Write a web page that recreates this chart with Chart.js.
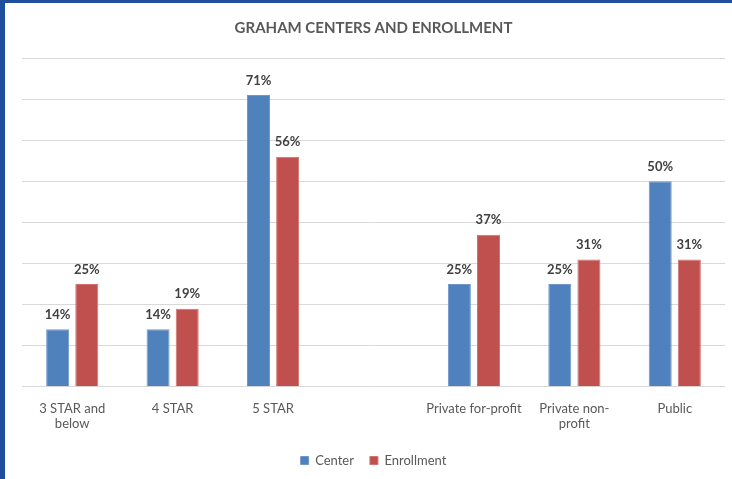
<!DOCTYPE html>
<html>
<head>
<meta charset="utf-8">
<script src="https://cdn.jsdelivr.net/npm/chart.js@4.4.1/dist/chart.umd.min.js"></script>
<style>
  body { margin: 0; background: #fff; }
  #wrap {
    width: 727px; height: 476px;
    border-left: 5px solid #1f4e9c;
    border-top: 3px solid #1f4e9c;
  }
</style>
</head>
<body>
<div id="wrap"><canvas id="myChart" width="727" height="476"></canvas></div>
<script>
// Chart data
const categories = [["3 STAR and", "below"], "4 STAR", "5 STAR", "", "Private for-profit", ["Private non-", "profit"], "Public"];
const centerValues = [14, 14, 71, null, 25, 25, 50];
const enrollmentValues = [25, 19, 56, null, 37, 31, 31];

const FONT = "Lato, 'Open Sans', sans-serif";

// Draw the percentage labels above each bar
const barLabels = {
    id: 'barLabels',
    afterDatasetsDraw(chart) {
        const ctx = chart.ctx;
        ctx.save();
        ctx.font = "bold 13px " + FONT;
        ctx.fillStyle = '#404040';
        ctx.textAlign = 'center';
        ctx.textBaseline = 'bottom';
        chart.data.datasets.forEach((ds, i) => {
            chart.getDatasetMeta(i).data.forEach((bar, j) => {
                const v = ds.data[j];
                if (v == null) return;
                ctx.fillText(v + '%', bar.x, bar.y - 8);
            });
        });
        ctx.restore();
    }
};

new Chart(document.getElementById('myChart').getContext('2d'), {
    type: 'bar',
    data: {
        labels: categories,
        datasets: [{
            label: 'Center',
            data: centerValues,
            backgroundColor: '#4f81bd',
            borderColor: '#6f97cc',
            borderWidth: 1
        }, {
            label: 'Enrollment',
            data: enrollmentValues,
            backgroundColor: '#c0504d',
            borderColor: '#d07270',
            borderWidth: 1
        }]
    },
    options: {
        responsive: false,
        animation: false,
        categoryPercentage: 0.58,
        barPercentage: 0.79,
        layout: {
            padding: { left: 17, right: 7, top: 0, bottom: 2 }
        },
        scales: {
            x: {
                grid: { display: false },
                border: { display: false },
                ticks: {
                    color: '#595959',
                    font: { family: FONT, size: 13 },
                    maxRotation: 0,
                    autoSkip: false,
                    padding: 6
                }
            },
            y: {
                min: 0,
                max: 80,
                ticks: { display: false, stepSize: 10 },
                grid: { color: '#d9d9d9', drawTicks: false },
                border: { display: false }
            }
        },
        plugins: {
            title: {
                display: true,
                text: 'GRAHAM CENTERS AND ENROLLMENT',
                color: '#595959',
                font: { family: FONT, size: 15, weight: 'bold' },
                padding: { top: 16, bottom: 21 }
            },
            legend: {
                position: 'bottom',
                labels: {
                    color: '#595959',
                    font: { family: FONT, size: 13 },
                    boxWidth: 8,
                    boxHeight: 8,
                    padding: 16
                }
            },
            tooltip: { enabled: false }
        }
    },
    plugins: [barLabels]
});
</script>
</body>
</html>
